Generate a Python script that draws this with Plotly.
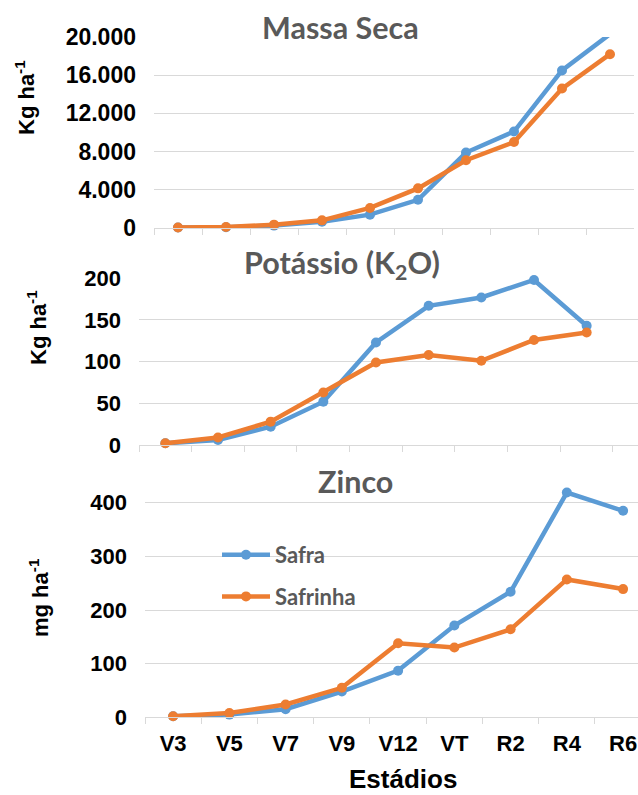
import plotly.graph_objects as go

# ---- data ----
stages_ms = ["V3", "V5", "V7", "V9", "V12", "V15", "VT", "R2", "R4", "R6"]
ms_safra = [50, 80, 250, 650, 1400, 2950, 7900, 10100, 16500, 20300]
ms_safrinha = [60, 100, 350, 800, 2100, 4150, 7100, 9000, 14600, 18200]

stages = ["V3", "V5", "V7", "V9", "V12", "VT", "R2", "R4", "R6"]
k_safra = [2, 6, 22, 52, 123, 167, 177, 198, 143]
k_safrinha = [2, 9, 28, 63, 99, 108, 101, 126, 135]

zn_safra = [2, 5, 15, 48, 87, 171, 234, 419, 385]
zn_safrinha = [2, 8, 24, 55, 138, 130, 164, 257, 239]

ms_ticks = [0, 4000, 8000, 12000, 16000, 20000]
ms_ticktext = ["0", "4.000", "8.000", "12.000", "16.000", "20.000"]
k_ticks = [0, 50, 100, 150, 200]
zn_ticks = [0, 100, 200, 300, 400]

series_names = ["Safra", "Safrinha"]
BLUE = "#5B9BD5"
ORANGE = "#ED7D31"

W, H = 638, 795

def px_x(v):
    return v / W

def px_y(v):
    return 1 - v / H

fig = go.Figure()

def add_pair(xs, s1, s2, xa, ya, show):
    for name, ys, col in [(series_names[0], s1, BLUE), (series_names[1], s2, ORANGE)]:
        fig.add_trace(go.Scatter(
            x=xs, y=ys, mode="lines+markers", name=name,
            line=dict(color=col, width=4.5),
            marker=dict(color=col, size=10),
            xaxis=xa, yaxis=ya, showlegend=show, cliponaxis=False,
            legendgroup=name,
        ))

add_pair(stages_ms, ms_safra, ms_safrinha, "x", "y", False)
add_pair(stages, k_safra, k_safrinha, "x2", "y2", False)
add_pair(stages, zn_safra, zn_safrinha, "x3", "y3", True)

grid = "#D9D9D9"

def xaxis(domain, rng, anchor, show_labels):
    return dict(domain=domain, range=rng, anchor=anchor, type="category",
                showgrid=False, showline=True, linecolor=grid, linewidth=1,
                ticks="outside", ticklen=6, tickcolor=grid, tickson="boundaries",
                showticklabels=show_labels,
                tickfont=dict(family="Liberation Sans", size=22, color="#000000", weight="bold"),
                ticklabelstandoff=6, zeroline=False, fixedrange=True, automargin=False)

def yaxis(domain, rng, anchor, tv, tt, fs):
    return dict(domain=domain, range=rng, anchor=anchor, showgrid=True, gridcolor=grid,
                gridwidth=1, zeroline=False, showline=False, tickvals=tv, ticktext=tt,
                tickfont=dict(family="Liberation Sans", size=fs, color="#000000", weight="bold"),
                ticks="", ticklabelstandoff=17, fixedrange=True, automargin=False)

fig.update_layout(
    width=W, height=H,
    margin=dict(l=0, r=0, t=0, b=0, autoexpand=False),
    paper_bgcolor="white", plot_bgcolor="white",
    xaxis=xaxis([px_x(154), px_x(634)], [-0.5, 9.5], "y", False),
    yaxis=yaxis([px_y(228), px_y(37)], [0, 20000], "x", ms_ticks, ms_ticktext, 23),
    xaxis2=xaxis([px_x(139), 1.0], [-0.5, 8.975], "y2", False),
    yaxis2=yaxis([px_y(445), px_y(278.3)], [0, 200], "x2", k_ticks, [str(v) for v in k_ticks], 22),
    xaxis3=xaxis([px_x(145), 1.0], [-0.5, 8.265], "y3", True),
    yaxis3=yaxis([px_y(717.3), px_y(475.9)], [0, 450], "x3", zn_ticks, [str(v) for v in zn_ticks], 22),
    legend=dict(x=px_x(217), y=px_y(534), xanchor="left", yanchor="top",
                font=dict(family="Lato", size=22, color="#595959", weight="bold"),
                bgcolor="rgba(0,0,0,0)", tracegroupgap=10, traceorder="grouped",
                itemwidth=48),
    showlegend=True,
)

title_font = dict(family="Lato", size=30.5, color="#595959", weight="bold")
ylab_font = dict(family="Liberation Sans", size=22, color="#000000", weight="bold")

annotations = [
    dict(text="Massa Seca", x=px_x(340), y=px_y(27), font=title_font),
    dict(text="Potássio (K<sub>2</sub>O)", x=px_x(342), y=px_y(265), font=title_font),
    dict(text="Zinco", x=px_x(355), y=px_y(481), font=title_font),
    dict(text="Kg ha<sup>-1</sup>", x=px_x(25), y=px_y(98), font=ylab_font, textangle=-90),
    dict(text="Kg ha<sup>-1</sup>", x=px_x(37), y=px_y(328), font=ylab_font, textangle=-90),
    dict(text="mg ha<sup>-1</sup>", x=px_x(39), y=px_y(598), font=ylab_font, textangle=-90),
    dict(text="Estádios", x=px_x(403), y=px_y(779),
         font=dict(family="Liberation Sans", size=26, color="#000000", weight="bold")),
]
for a in annotations:
    a.update(xref="paper", yref="paper", showarrow=False, xanchor="center", yanchor="middle")
fig.update_layout(annotations=annotations)

fig.write_html("out.html", config={"displayModeBar": False},
               post_script="document.body.style.margin='0';")
